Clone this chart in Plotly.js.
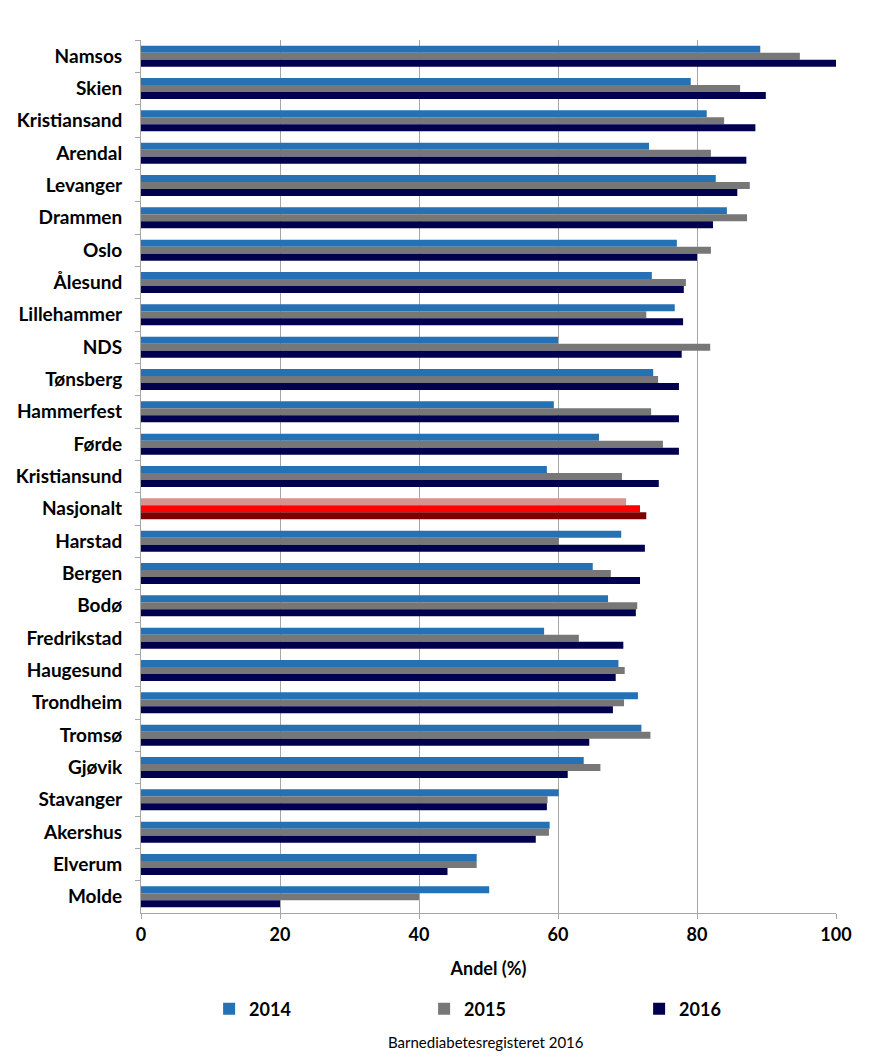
<!DOCTYPE html>
<html>
<head>
<meta charset="utf-8">
<script src="https://cdn.plot.ly/plotly-3.0.1.min.js"></script>
<style>
html,body{margin:0;padding:0;background:#fff;}
#chart{width:874px;height:1064px;}
</style>
</head>
<body>
<div id="chart"></div>
<script>
const categories = ["Namsos","Skien","Kristiansand","Arendal","Levanger","Drammen","Oslo","Ålesund","Lillehammer","NDS","Tønsberg","Hammerfest","Førde","Kristiansund","Nasjonalt","Harstad","Bergen","Bodø","Fredrikstad","Haugesund","Trondheim","Tromsø","Gjøvik","Stavanger","Akershus","Elverum","Molde"];
const v2014 = [89.1,79.1,81.4,73.1,82.7,84.3,77.1,73.5,76.8,60.0,73.7,59.4,65.9,58.4,69.8,69.1,65.0,67.2,58.0,68.7,71.5,72.0,63.7,60.1,58.8,48.3,50.1];
const v2015 = [94.8,86.2,83.9,82.0,87.6,87.2,82.0,78.4,72.7,81.9,74.4,73.4,75.1,69.2,71.8,60.1,67.6,71.4,63.0,69.6,69.5,73.3,66.1,58.5,58.7,48.3,40.0];
const v2016 = [100,89.9,88.4,87.1,85.8,82.3,80.0,78.1,78.0,77.8,77.4,77.4,77.4,74.5,72.7,72.5,71.8,71.2,69.4,68.3,67.9,64.5,61.4,58.4,56.8,44.1,20.0];
const seriesNames = ["2014","2015","2016"];
const highlight = "Nasjonalt";

const baseColors = ["#2571B5","#777777","#00004F"];
const highlightColors = ["#DA908E","#FF0000","#7F0000"];

const font = "Lato, 'Liberation Sans', Arial, sans-serif";
const vals = [v2014, v2015, v2016];
const traces = vals.map((v, i) => ({
  type: "bar",
  orientation: "h",
  name: seriesNames[i],
  y: categories,
  x: v,
  marker: {color: categories.map(c => c === highlight ? highlightColors[i] : baseColors[i]), line: {width: 0}},
  hoverinfo: "x+y+name"
}));

const layout = {
  width: 874, height: 1064,
  margin: {l: 141, r: 38, t: 40, b: 151},
  paper_bgcolor: "#fff", plot_bgcolor: "#fff",
  barmode: "group", bargap: 0.35, bargroupgap: 0,
  font: {family: font, color: "#000"},
  xaxis: {
    range: [0, 100], dtick: 20, tick0: 0,
    showgrid: true, gridcolor: "#A6A6A6", gridwidth: 1,
    zeroline: false, showline: true, linecolor: "#A6A6A6", linewidth: 1,
    ticks: "outside", ticklen: 5, tickcolor: "#A6A6A6",
    tickfont: {family: font, size: 18, color: "#000", weight: "bold"},
    title: {text: "<b>Andel (%)</b>", font: {family: font, size: 18, color: "#000"}, standoff: 18}
  },
  yaxis: {
    type: "category", autorange: "reversed",
    showline: true, linecolor: "#A6A6A6", linewidth: 1,
    ticks: "outside", ticklen: 5, tickcolor: "#A6A6A6", tickson: "boundaries",
    showgrid: false,
    tickfont: {family: font, size: 19, color: "#000", weight: "bold"},
    ticklabelstandoff: 14
  },
  legend: {
    orientation: "h", x: 0.098, xanchor: "left",
    y: -0.11, yanchor: "middle",
    entrywidth: 170, entrywidthmode: "pixels",
    font: {family: font, size: 18, color: "#000", weight: "bold"},
    traceorder: "normal"
  },
  annotations: [{
    text: "Barnediabetesregisteret 2016",
    xref: "paper", yref: "paper", x: 0.497, y: -0.148, yanchor: "middle",
    showarrow: false, font: {family: font, size: 15, color: "#000"}
  }]
};

Plotly.newPlot("chart", traces, layout, {displayModeBar: false, staticPlot: true});
</script>
</body>
</html>
